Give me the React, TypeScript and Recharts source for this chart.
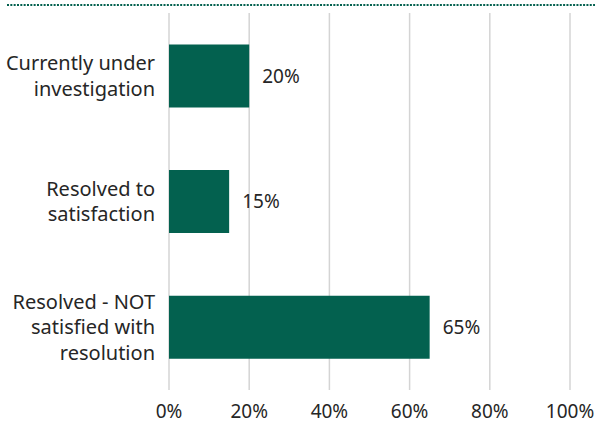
import React from 'react';
import { BarChart, Bar, XAxis, YAxis, CartesianGrid, LabelList } from 'recharts';

const categories = ['Currently under\ninvestigation', 'Resolved to\nsatisfaction', 'Resolved - NOT\nsatisfied with\nresolution'];
const values = [20, 15, 65];
const xTicks = [0, 20, 40, 60, 80, 100];

const data = categories.map((c, i) => ({ name: c, value: values[i] }));

const FONT = '"Noto Sans", sans-serif';
const TEXT = '#262626';
const GREEN = '#03614f';
const FS = 19;

const YTick = (props: any) => {
  const { x, y, payload } = props;
  const lines = String(payload.value).split('\n');
  const lh = 25.5;
  const start = -((lines.length - 1) * lh) / 2;
  return (
    <text x={x} y={y} textAnchor="end" fill={TEXT} fontSize={20} fontFamily={FONT}>
      {lines.map((l, i) => (
        <tspan key={i} x={x} y={y + start + i * lh} dy="0.35em">{l}</tspan>
      ))}
    </text>
  );
};

export default function App() {
  return (
    <div style={{ position: 'absolute', left: 0, top: 0, width: 595, height: 427, background: '#fff' }}>
      <svg style={{ position: 'absolute', left: 0, top: 0 }} width={595} height={10}>
        <line x1={7} y1={5} x2={595} y2={5} stroke={GREEN} strokeWidth={2} strokeDasharray="2 1.33" />
      </svg>
      <BarChart
        width={595}
        height={427}
        data={data}
        layout="vertical"
        margin={{ top: 13, right: 25, bottom: 0, left: 0 }}
        barCategoryGap="25%"
      >
        <CartesianGrid horizontal={false} stroke="#d4d4d4" strokeWidth={1.5} />
        <XAxis
          type="number"
          domain={[0, 100]}
          ticks={xTicks}
          tickFormatter={(v: number) => `${v}%`}
          axisLine={false}
          tickLine={false}
          tickMargin={9}
          height={37}
          interval={0}
          tick={{ fill: TEXT, fontSize: FS, fontFamily: FONT }}
        />
        <YAxis
          type="category"
          dataKey="name"
          width={169}
          axisLine={false}
          tickLine={false}
          tickMargin={8}
          tick={<YTick />}
        />
        <Bar dataKey="value" fill={GREEN} isAnimationActive={false}>
          <LabelList
            dataKey="value"
            position="right"
            offset={13}
            formatter={(v: any) => `${v}%`}
            fill={TEXT}
            fontSize={FS}
            fontFamily={FONT}
          />
        </Bar>
      </BarChart>
    </div>
  );
}
